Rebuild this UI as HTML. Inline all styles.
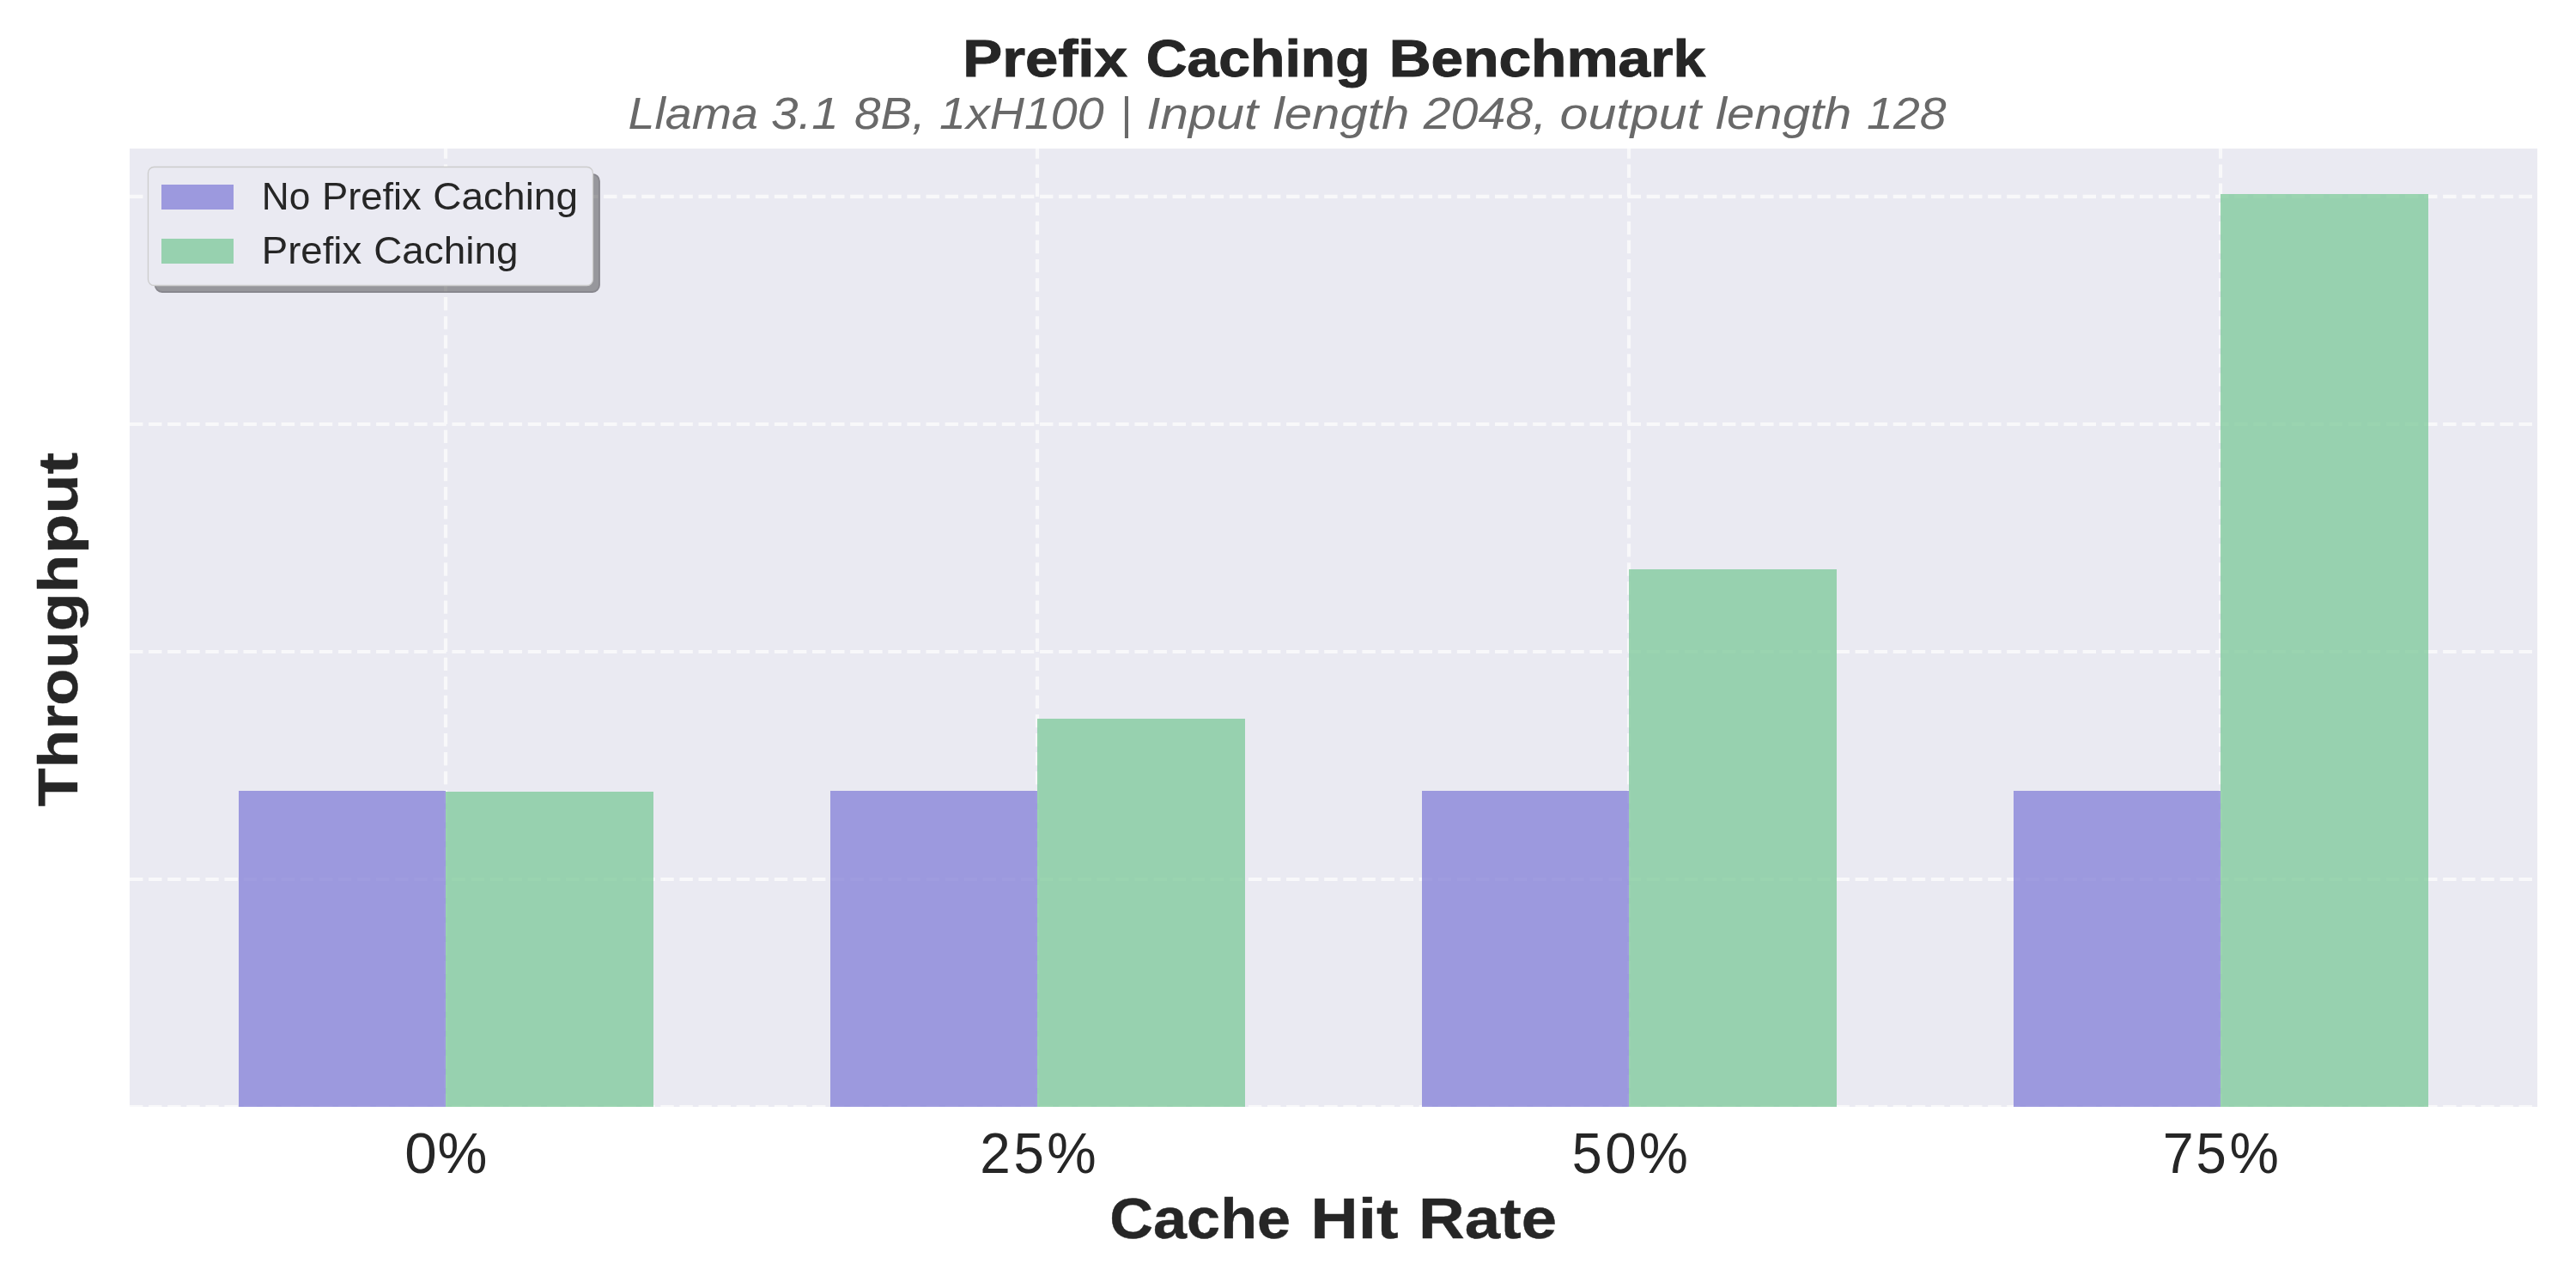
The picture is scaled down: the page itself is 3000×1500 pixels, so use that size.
<!DOCTYPE html>
<html>
<head>
<meta charset="utf-8">
<style>
html,body{margin:0;padding:0;background:#ffffff;width:3000px;height:1500px;overflow:hidden;}
svg{display:block;will-change:transform;}
text{font-family:"Liberation Sans",sans-serif;}
</style>
</head>
<body>
<svg width="3000" height="1500" viewBox="0 0 3000 1500">
<rect x="0" y="0" width="3000" height="1500" fill="#ffffff"/>
<rect x="151" y="173" width="2804" height="1116" fill="#eaeaf2"/>
<defs><clipPath id="ax"><rect x="151" y="173" width="2804" height="1116"/></clipPath></defs>
<g clip-path="url(#ax)" stroke="#f8f8fa" stroke-width="4.1667" stroke-dasharray="15.4167 6.6667" fill="none">
<line x1="151" y1="1289" x2="2955" y2="1289"/>
<line x1="151" y1="1024" x2="2955" y2="1024"/>
<line x1="151" y1="759" x2="2955" y2="759"/>
<line x1="151" y1="494" x2="2955" y2="494"/>
<line x1="151" y1="228.9" x2="2955" y2="228.9"/>
<line x1="519" y1="1289" x2="519" y2="173"/>
<line x1="1208" y1="1289" x2="1208" y2="173"/>
<line x1="1897" y1="1289" x2="1897" y2="173"/>
<line x1="2586" y1="1289" x2="2586" y2="173"/>
</g>
<g fill-opacity="0.8">
<rect x="278" y="921" width="241" height="368" fill="#8884d8"/>
<rect x="967" y="921" width="241" height="368" fill="#8884d8"/>
<rect x="1656" y="921" width="241" height="368" fill="#8884d8"/>
<rect x="2345" y="921" width="241" height="368" fill="#8884d8"/>
<rect x="519" y="922" width="242" height="367" fill="#82ca9d"/>
<rect x="1208" y="837" width="242" height="452" fill="#82ca9d"/>
<rect x="1897" y="663" width="242" height="626" fill="#82ca9d"/>
<rect x="2586" y="226" width="242" height="1063" fill="#82ca9d"/>
</g>
<g opacity="0.5"><rect x="180.7" y="202.9" width="517.3" height="137.1" rx="8" ry="8" fill="rgb(70,70,72)" stroke="rgb(40,38,44)" stroke-width="1.8"/></g>
<rect x="172.5" y="194.5" width="518" height="138" rx="7" ry="7" fill="#eaeaf2" stroke="#cccccc" stroke-width="1.3"/>
<rect x="188" y="215" width="84" height="29" fill="#8884d8" fill-opacity="0.8"/>
<rect x="188" y="278" width="84" height="29" fill="#82ca9d" fill-opacity="0.8"/>
<text x="1121.28" y="89.40" font-size="62.00" textLength="191.57" lengthAdjust="spacingAndGlyphs" font-weight="bold" fill="#262626" stroke="#262626" stroke-width="1">Prefix</text>
<text x="1334.84" y="89.40" font-size="62.00" textLength="260.80" lengthAdjust="spacingAndGlyphs" font-weight="bold" fill="#262626" stroke="#262626" stroke-width="1">Caching</text>
<text x="1617.70" y="89.40" font-size="62.00" textLength="368.49" lengthAdjust="spacingAndGlyphs" font-weight="bold" fill="#262626" stroke="#262626" stroke-width="1">Benchmark</text>
<text x="731.54" y="149.90" font-size="51.40" textLength="151.41" lengthAdjust="spacingAndGlyphs" font-style="italic" fill="#696969">Llama</text>
<text x="897.92" y="149.90" font-size="51.40" textLength="78.75" lengthAdjust="spacingAndGlyphs" font-style="italic" fill="#696969">3.1</text>
<text x="995.07" y="149.90" font-size="51.40" textLength="82.45" lengthAdjust="spacingAndGlyphs" font-style="italic" fill="#696969">8B,</text>
<text x="1094.10" y="149.90" font-size="51.40" textLength="191.59" lengthAdjust="spacingAndGlyphs" font-style="italic" fill="#696969">1xH100</text>
<text x="1304.63" y="149.90" font-size="51.40" textLength="12.96" lengthAdjust="spacingAndGlyphs" font-style="italic" fill="#696969">|</text>
<text x="1335.33" y="149.90" font-size="51.40" textLength="130.05" lengthAdjust="spacingAndGlyphs" font-style="italic" fill="#696969">Input</text>
<text x="1482.77" y="149.90" font-size="51.40" textLength="158.48" lengthAdjust="spacingAndGlyphs" font-style="italic" fill="#696969">length</text>
<text x="1657.76" y="149.90" font-size="51.40" textLength="143.39" lengthAdjust="spacingAndGlyphs" font-style="italic" fill="#696969">2048,</text>
<text x="1816.54" y="149.90" font-size="51.40" textLength="164.56" lengthAdjust="spacingAndGlyphs" font-style="italic" fill="#696969">output</text>
<text x="1998.13" y="149.90" font-size="51.40" textLength="158.29" lengthAdjust="spacingAndGlyphs" font-style="italic" fill="#696969">length</text>
<text x="2174.11" y="149.90" font-size="51.40" textLength="92.45" lengthAdjust="spacingAndGlyphs" font-style="italic" fill="#696969">128</text>
<text x="304.82" y="243.80" font-size="45.00" textLength="56.47" lengthAdjust="spacingAndGlyphs" fill="#262626">No</text>
<text x="374.96" y="243.80" font-size="45.00" textLength="115.82" lengthAdjust="spacingAndGlyphs" fill="#262626">Prefix</text>
<text x="504.30" y="243.80" font-size="45.00" textLength="168.71" lengthAdjust="spacingAndGlyphs" fill="#262626">Caching</text>
<text x="304.80" y="307.00" font-size="45.00" textLength="116.40" lengthAdjust="spacingAndGlyphs" fill="#262626">Prefix</text>
<text x="435.18" y="307.00" font-size="45.00" textLength="168.23" lengthAdjust="spacingAndGlyphs" fill="#262626">Caching</text>
<text x="1292.32" y="1442.00" font-size="66.00" textLength="210.83" lengthAdjust="spacingAndGlyphs" font-weight="bold" fill="#262626" stroke="#262626" stroke-width="0.4">Cache</text>
<text x="1526.30" y="1442.00" font-size="66.00" textLength="102.37" lengthAdjust="spacingAndGlyphs" font-weight="bold" fill="#262626" stroke="#262626" stroke-width="0.4">Hit</text>
<text x="1651.99" y="1442.00" font-size="66.00" textLength="161.22" lengthAdjust="spacingAndGlyphs" font-weight="bold" fill="#262626" stroke="#262626" stroke-width="0.4">Rate</text>
<text x="471.30" y="1365.60" font-size="66.00" textLength="37.51" lengthAdjust="spacingAndGlyphs" fill="#262626">0</text>
<text x="509.55" y="1365.60" font-size="66.00" textLength="57.87" lengthAdjust="spacingAndGlyphs" fill="#262626">%</text>
<text x="1141.34" y="1365.60" font-size="66.00" textLength="35.49" lengthAdjust="spacingAndGlyphs" fill="#262626">2</text>
<text x="1180.50" y="1365.60" font-size="66.00" textLength="35.40" lengthAdjust="spacingAndGlyphs" fill="#262626">5</text>
<text x="1219.29" y="1365.60" font-size="66.00" textLength="57.42" lengthAdjust="spacingAndGlyphs" fill="#262626">%</text>
<text x="1830.83" y="1365.60" font-size="66.00" textLength="34.93" lengthAdjust="spacingAndGlyphs" fill="#262626">5</text>
<text x="1869.30" y="1365.60" font-size="66.00" textLength="36.45" lengthAdjust="spacingAndGlyphs" fill="#262626">0</text>
<text x="1908.67" y="1365.60" font-size="66.00" textLength="57.15" lengthAdjust="spacingAndGlyphs" fill="#262626">%</text>
<text x="2518.80" y="1365.60" font-size="66.00" textLength="35.94" lengthAdjust="spacingAndGlyphs" fill="#262626">7</text>
<text x="2557.55" y="1365.60" font-size="66.00" textLength="35.30" lengthAdjust="spacingAndGlyphs" fill="#262626">5</text>
<text x="2596.39" y="1365.60" font-size="66.00" textLength="57.42" lengthAdjust="spacingAndGlyphs" fill="#262626">%</text>
<text transform="translate(90.10,939.31) rotate(-90)" x="0" y="0" font-size="65.00" font-weight="bold" fill="#262626" stroke="#262626" stroke-width="0.4" textLength="118.32" lengthAdjust="spacingAndGlyphs">Thr</text>
<text transform="translate(90.10,821.64) rotate(-90)" x="0" y="0" font-size="65.00" font-weight="bold" fill="#262626" stroke="#262626" stroke-width="0.4" textLength="86.28" lengthAdjust="spacingAndGlyphs">ou</text>
<text transform="translate(90.10,735.30) rotate(-90)" x="0" y="0" font-size="65.00" font-weight="bold" fill="#262626" stroke="#262626" stroke-width="0.4" textLength="89.55" lengthAdjust="spacingAndGlyphs">gh</text>
<text transform="translate(90.10,644.95) rotate(-90)" x="0" y="0" font-size="65.00" font-weight="bold" fill="#262626" stroke="#262626" stroke-width="0.4" textLength="118.10" lengthAdjust="spacingAndGlyphs">put</text>
</svg>
</body>
</html>
